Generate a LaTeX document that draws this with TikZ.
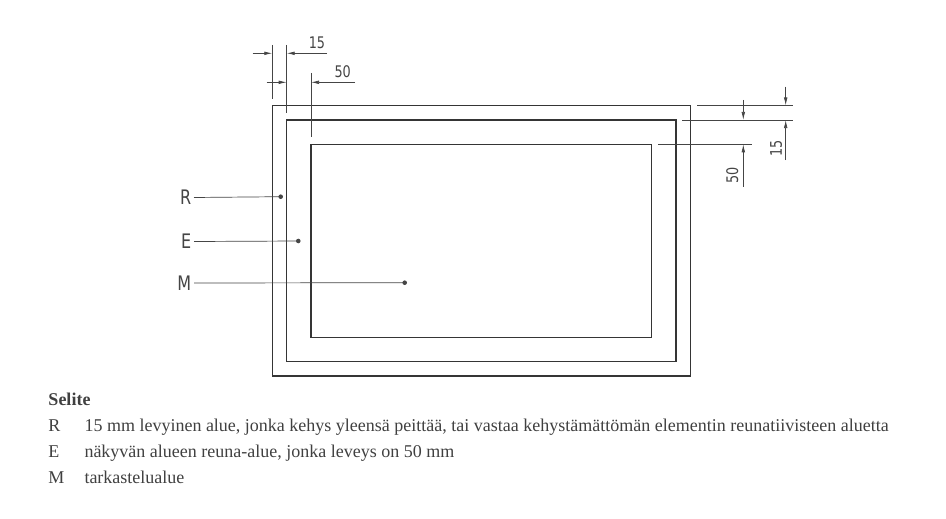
\documentclass[tikz,border=0pt]{standalone}
\usepackage{fontspec}
\setmainfont{Liberation Serif}
\newfontfamily\isofont{DejaVu Sans}[FakeStretch=0.8]
\usetikzlibrary{arrows.meta}
\definecolor{linec}{HTML}{353535}
\definecolor{dimc}{HTML}{454545}
\definecolor{txtc}{HTML}{404040}
\tikzset{
  frame/.style={draw=linec, line width=1.3pt},
  dimline/.style={draw=dimc, line width=0.7pt},
  arr/.style={-{Latex[length=8pt,width=3.6pt]}},
  dimtxt/.style={font=\isofont\fontsize{16}{16}\selectfont, text=dimc, inner sep=0pt},
  lbl/.style={font=\isofont\fontsize{20}{20}\selectfont, text=dimc, inner sep=0pt, anchor=east},
  leader/.style={draw=dimc, line width=0.7pt},
  dotc/.style={fill=dimc},
  legtxt/.style={font=\fontsize{18}{18}\selectfont, text=txtc, inner sep=0pt, anchor=base west},
}
\begin{document}
\begin{tikzpicture}[x=1pt,y=-1pt]
\useasboundingbox (0,0) rectangle (946,519);
% frames
\coordinate (o1) at (272.3,105.5); \coordinate (o2) at (690.7,376);
\coordinate (m1) at (286.7,120); \coordinate (m2) at (676,361.7);
\coordinate (i1) at (311,144.3); \coordinate (i2) at (651.7,337.3);
\draw[frame] (o1) rectangle (o2);
\draw[frame] (m1) rectangle (m2);
\draw[frame] (i1) rectangle (i2);
% top-left extension lines
\coordinate (ea1) at (272.3,45); \coordinate (ea2) at (272.3,99);
\coordinate (eb1) at (286.7,45); \coordinate (eb2) at (286.7,113);
\coordinate (ec1) at (311,73); \coordinate (ec2) at (311,137);
\draw[dimline] (ea1) -- (ea2);
\draw[dimline] (eb1) -- (eb2);
\draw[dimline] (ec1) -- (ec2);
% dim 15 (top)
\coordinate (d15l) at (252.7,53.3); \coordinate (d15a) at (272.3,53.3);
\coordinate (d15b) at (286.7,53.3); \coordinate (d15r) at (327,53.3);
\draw[dimline,arr] (d15l) -- (d15a);
\draw[dimline,arr] (d15r) -- (d15b);
\node[dimtxt] (t15) at (317,43) {15};
% dim 50 (top)
\coordinate (d50l) at (266.7,82.3); \coordinate (d50a) at (286.7,82.3);
\coordinate (d50b) at (311,82.3); \coordinate (d50r) at (355,82.3);
\draw[dimline,arr] (d50l) -- (d50a);
\draw[dimline,arr] (d50r) -- (d50b);
\node[dimtxt] (t50) at (342.7,71.7) {50};
% right extension lines
\coordinate (rx1) at (697,105.5); \coordinate (rx1e) at (792.7,105.5);
\coordinate (rx2) at (682,120); \coordinate (rx2e) at (792.7,120);
\coordinate (rx3) at (658,144.3); \coordinate (rx3e) at (751.7,144.3);
\draw[dimline] (rx1) -- (rx1e);
\draw[dimline] (rx2) -- (rx2e);
\draw[dimline] (rx3) -- (rx3e);
% right dim 15
\coordinate (v15t) at (785.7,86.7); \coordinate (v15a) at (785.7,105.5);
\coordinate (v15b) at (785.7,120); \coordinate (v15e) at (785.7,160);
\draw[dimline,arr] (v15t) -- (v15a);
\draw[dimline,arr] (v15e) -- (v15b);
\node[dimtxt,rotate=90] (r15) at (776.2,148.3) {15};
% right dim 50
\coordinate (v50t) at (743.3,100); \coordinate (v50a) at (743.3,120);
\coordinate (v50b) at (743.3,144.3); \coordinate (v50e) at (743.3,186.7);
\draw[dimline,arr] (v50t) -- (v50a);
\draw[dimline,arr] (v50e) -- (v50b);
\node[dimtxt,rotate=90] (r50) at (732.2,175) {50};
% leaders
\node[lbl] (R) at (191.5,197.5) {R};
\node[lbl] (E) at (191.5,241.5) {E};
\node[lbl] (M) at (191.5,283) {M};
\coordinate (pR) at (280.7,196.7);
\coordinate (pE) at (298.3,241);
\coordinate (pM) at (404.7,282.7);
\draw[leader] (R.east) ++(2.5,0) coordinate (Rs) -- (pR);
\draw[leader] (E.east) ++(2.5,0) coordinate (Es) -- (pE);
\draw[leader] (M.east) ++(2.5,0) coordinate (Ms) -- (pM);
\fill[dotc] (pR) circle (2.3);
\fill[dotc] (pE) circle (2.3);
\fill[dotc] (pM) circle (2.3);
% legend
\node[legtxt,font=\bfseries\fontsize{18}{18}\selectfont] (sel) at (48.3,405.7) {Selite};
\node[legtxt] (kR) at (48.3,431.7) {R};
\node[legtxt] (kE) at (48.3,457.5) {E};
\node[legtxt] (kM) at (48.3,483.3) {M};
\node[legtxt] (dR) at (84.3,431.7) {15 mm levyinen alue, jonka kehys yleensä peittää, tai vastaa kehystämättömän elementin reunatiivisteen aluetta};
\node[legtxt] (dE) at (84.3,457.5) {näkyvän alueen reuna-alue, jonka leveys on 50 mm};
\node[legtxt] (dM) at (84.3,483.3) {tarkastelualue};
\end{tikzpicture}
\end{document}
